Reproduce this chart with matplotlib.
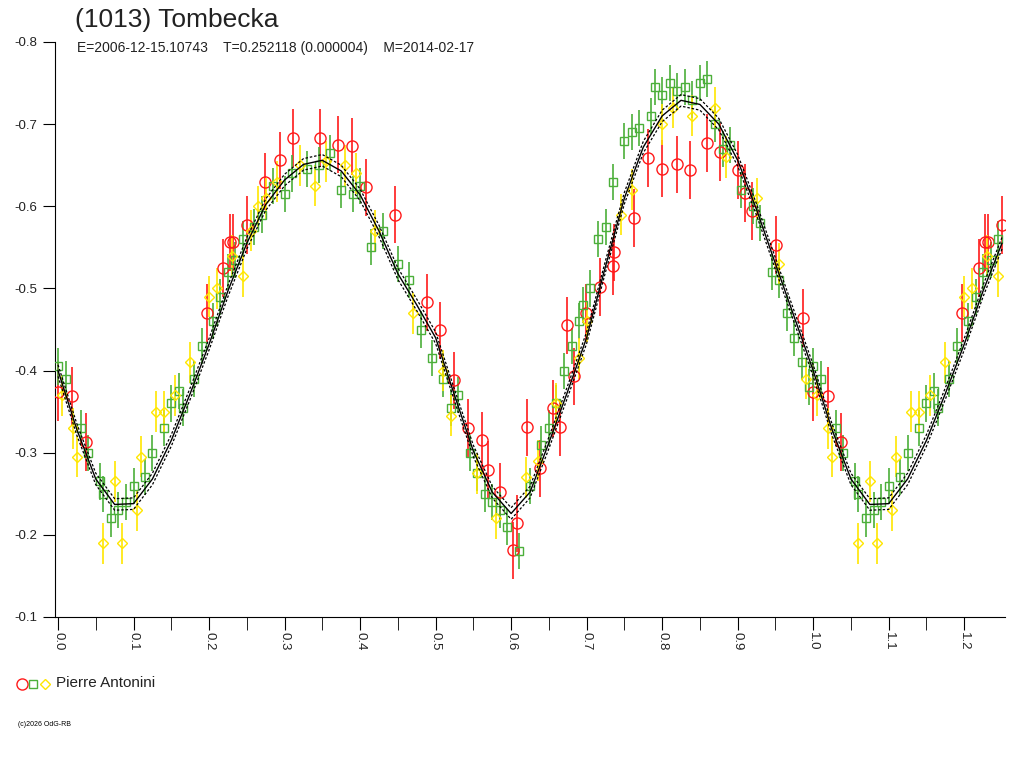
import numpy as np
import matplotlib.pyplot as plt
from matplotlib.lines import Line2D

plt.rcParams['font.family'] = ['Liberation Sans', 'DejaVu Sans']

# model curve (one period, phase 0..1)
fit_phase = [0.000, 0.025, 0.050, 0.075, 0.100, 0.125, 0.150, 0.175, 0.200, 0.225,
             0.250, 0.275, 0.300, 0.325, 0.350, 0.375, 0.400, 0.425, 0.450, 0.475,
             0.500, 0.525, 0.550, 0.575, 0.600, 0.625, 0.650, 0.675, 0.700, 0.725,
             0.750, 0.775, 0.800, 0.825, 0.850, 0.875, 0.900, 0.925, 0.950, 0.975, 1.000]
fit_mag = [-0.400, -0.328, -0.268, -0.237, -0.238, -0.268, -0.315, -0.372, -0.432, -0.497,
           -0.555, -0.602, -0.632, -0.651, -0.656, -0.643, -0.614, -0.570, -0.518, -0.480,
           -0.440, -0.370, -0.302, -0.252, -0.226, -0.252, -0.312, -0.375, -0.440, -0.527,
           -0.610, -0.672, -0.710, -0.729, -0.724, -0.700, -0.656, -0.596, -0.530, -0.465, -0.400]
fit_err = 0.007

red_phase = [0.0, 0.019, 0.037, 0.197, 0.219, 0.228, 0.232, 0.25, 0.274, 0.294, 0.311, 0.347,
             0.371, 0.389, 0.408, 0.446, 0.489, 0.506, 0.525, 0.543, 0.561, 0.57, 0.585, 0.603,
             0.608, 0.621, 0.638, 0.656, 0.665, 0.674, 0.683, 0.699, 0.718, 0.735, 0.736, 0.763,
             0.781, 0.8, 0.82, 0.837, 0.86, 0.877, 0.9, 0.91, 0.919, 0.951, 0.987]
red_mag = [-0.374, -0.369, -0.313, -0.47, -0.525, -0.556, -0.556, -0.577, -0.63, -0.656, -0.683, -0.683,
           -0.675, -0.673, -0.623, -0.59, -0.483, -0.449, -0.388, -0.33, -0.315, -0.279, -0.252, -0.181,
           -0.214, -0.331, -0.281, -0.354, -0.331, -0.455, -0.393, -0.47, -0.502, -0.527, -0.544, -0.586,
           -0.659, -0.646, -0.651, -0.644, -0.677, -0.666, -0.644, -0.616, -0.594, -0.553, -0.464]

green_phase = [0.0, 0.01, 0.03, 0.04, 0.055, 0.06, 0.07, 0.08, 0.09, 0.1, 0.115, 0.125, 0.14, 0.15,
               0.16, 0.165, 0.18, 0.19, 0.205, 0.215, 0.225, 0.235, 0.245, 0.26, 0.27, 0.285, 0.3,
               0.31, 0.33, 0.345, 0.36, 0.375, 0.39, 0.40, 0.415, 0.43, 0.45, 0.465, 0.48, 0.495,
               0.51, 0.52, 0.53, 0.545, 0.555, 0.565, 0.575, 0.585, 0.595, 0.61, 0.625, 0.64, 0.65,
               0.66, 0.67, 0.68, 0.69, 0.695, 0.705, 0.715, 0.725, 0.735, 0.75, 0.76, 0.77, 0.785,
               0.79, 0.8, 0.81, 0.82, 0.83, 0.84, 0.85, 0.86, 0.87, 0.88, 0.89, 0.905, 0.92, 0.93,
               0.945, 0.955, 0.965, 0.975, 0.985, 0.995]
green_mag = [-0.405, -0.39, -0.33, -0.30, -0.265, -0.25, -0.22, -0.23, -0.24, -0.26, -0.27, -0.30,
             -0.33, -0.36, -0.375, -0.355, -0.39, -0.43, -0.46, -0.49, -0.52, -0.535, -0.56, -0.575,
             -0.59, -0.625, -0.615, -0.64, -0.645, -0.65, -0.665, -0.62, -0.615, -0.625, -0.55, -0.57,
             -0.53, -0.51, -0.45, -0.415, -0.39, -0.355, -0.37, -0.3, -0.275, -0.25, -0.24, -0.23,
             -0.21, -0.18, -0.26, -0.31, -0.33, -0.36, -0.4, -0.43, -0.46, -0.48, -0.5, -0.56, -0.575,
             -0.63, -0.68, -0.69, -0.695, -0.71, -0.745, -0.735, -0.75, -0.74, -0.745, -0.73, -0.75,
             -0.755, -0.7, -0.67, -0.675, -0.62, -0.6, -0.58, -0.52, -0.51, -0.47, -0.44, -0.41, -0.38]

yellow_phase = [0.005, 0.02, 0.025, 0.06, 0.075, 0.085, 0.105, 0.11, 0.13, 0.14, 0.155, 0.175, 0.2,
                0.21, 0.23, 0.245, 0.255, 0.265, 0.275, 0.29, 0.32, 0.34, 0.355, 0.38, 0.395, 0.42,
                0.47, 0.51, 0.52, 0.555, 0.58, 0.62, 0.635, 0.66, 0.69, 0.7, 0.745, 0.76, 0.8, 0.815,
                0.84, 0.87, 0.885, 0.925, 0.955, 0.99]
yellow_mag = [-0.37, -0.33, -0.295, -0.19, -0.265, -0.19, -0.23, -0.295, -0.35, -0.35, -0.37, -0.41,
              -0.49, -0.5, -0.54, -0.515, -0.57, -0.6, -0.61, -0.63, -0.65, -0.625, -0.655, -0.65,
              -0.64, -0.57, -0.47, -0.4, -0.345, -0.275, -0.22, -0.27, -0.29, -0.36, -0.415, -0.46,
              -0.59, -0.62, -0.7, -0.72, -0.71, -0.72, -0.66, -0.61, -0.53, -0.39]

RED, GREEN, YELLOW = '#ff1a1a', '#4caf3a', '#ffe600'
series = [
    (red_phase, red_mag, 0.035, RED, 'o', 8),
    (green_phase, green_mag, 0.022, GREEN, 's', 6),
    (yellow_phase, yellow_mag, 0.025, YELLOW, 'D', 5.5),
]


def extend(ph, mg, limit=0.255):
    # data shown over phase 0..1.25: repeat the start of the cycle after 1.0
    ph = np.asarray(ph)
    mg = np.asarray(mg)
    sel = ph < limit
    return np.concatenate([ph, ph[sel] + 1]), np.concatenate([mg, mg[sel]])


fig = plt.figure(figsize=(10.24, 7.68), dpi=100)
ax = fig.add_axes([55 / 1024, 1 - 617 / 768, 950 / 1024, 575 / 768])

for ph, mg, err, col, mk, ms in series:
    x, y = extend(ph, mg)
    ax.errorbar(x, y, yerr=err, fmt='none', ecolor=col, elinewidth=1.2, zorder=2)
    ax.plot(x, y, linestyle='none', marker=mk, ms=ms, mfc='none', mec=col, mew=1, zorder=3)

fx = np.concatenate([fit_phase, np.array(fit_phase[1:11]) + 1])
fy = np.concatenate([fit_mag, fit_mag[1:11]])
ax.plot(fx, fy, color='black', lw=1, zorder=4)
ax.plot(fx, fy + fit_err, color='black', lw=0.9, ls=(0, (2, 1.5)), zorder=4)
ax.plot(fx, fy - fit_err, color='black', lw=0.9, ls=(0, (2, 1.5)), zorder=4)

ax.set_xlim(-0.004, 1.254)
ax.set_ylim(-0.1, -0.8)
ax.spines['top'].set_visible(False)
ax.spines['right'].set_visible(False)
ax.set_xticks(np.arange(0, 1.25, 0.1))
ax.set_xticks(np.arange(0.05, 1.25, 0.1), minor=True)
ax.set_xticklabels([f'{v:.1f}' for v in np.arange(0, 1.25, 0.1)], rotation=270, fontsize=9.5,
                   color='#222222')
ax.set_yticks(np.arange(-0.8, -0.05, 0.1))
ax.set_yticklabels([f'{v:.1f}' for v in np.arange(-0.8, -0.05, 0.1)], fontsize=9.5, color='#222222')
ax.tick_params(axis='both', direction='out', length=9, color='black')
ax.tick_params(axis='x', which='minor', length=9)
ax.tick_params(axis='x', pad=2)

fig.text(75 / 1024, 1 - 20 / 768, '(1013) Tombecka', fontsize=19, va='center', color='#222222')
fig.text(77 / 1024, 1 - 48 / 768,
         'E=2006-12-15.10743    T=0.252118 (0.000004)    M=2014-02-17',
         fontsize=10, va='center', color='#222222')

# legend
leg_y = 1 - 684 / 768
for xp, col, mk, ms in [(22, RED, 'o', 8), (33, GREEN, 's', 6), (45, YELLOW, 'D', 5.5)]:
    fig.add_artist(Line2D([xp / 1024], [leg_y], marker=mk, ms=ms, mfc='none', mec=col,
                          mew=1, linestyle='none'))
fig.text(56 / 1024, 1 - 683 / 768, 'Pierre Antonini', fontsize=11, va='center', color='#222222')
fig.text(18 / 1024, 1 - 725 / 768, '(c)2026 OdG-RB', fontsize=5, va='center')

fig.savefig('out.png', dpi=100)
